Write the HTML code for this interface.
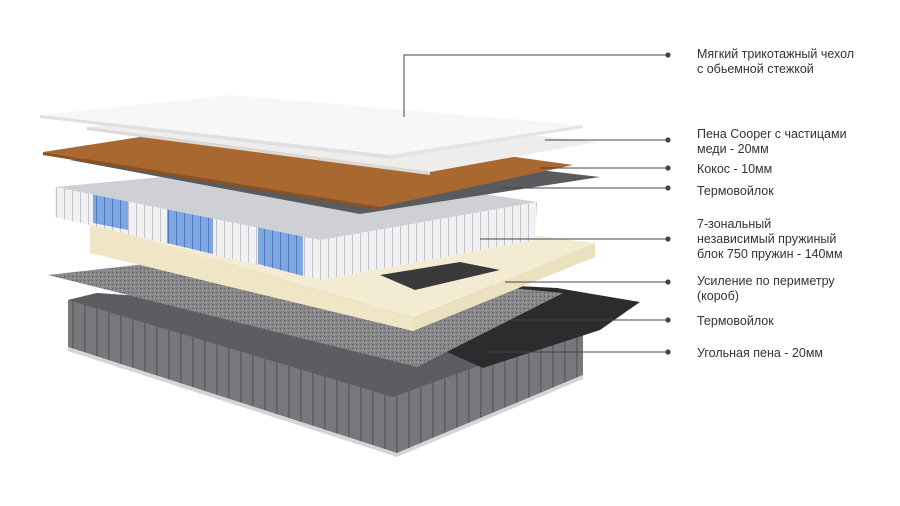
<!DOCTYPE html>
<html><head><meta charset="utf-8"><style>
html,body{margin:0;padding:0;background:#fff;}
svg{display:block}
text{font-family:"Liberation Sans",sans-serif;font-size:12.5px;fill:#333;}
</style></head><body>
<svg width="900" height="506" viewBox="0 0 900 506">
<defs>
<pattern id="rib" width="12" height="10" patternUnits="userSpaceOnUse"><rect width="12" height="10" fill="#77787c"/><rect width="1.5" height="10" fill="#5d5e62"/></pattern>
<pattern id="spr" width="8" height="10" patternUnits="userSpaceOnUse"><rect width="8" height="10" fill="#f1f1f3"/><rect width="1" height="10" fill="#c4c4ca"/></pattern>
<pattern id="sprb" width="8" height="10" patternUnits="userSpaceOnUse"><rect width="8" height="10" fill="#7ea6e0"/><rect width="1" height="10" fill="#4f7cc0"/></pattern>
<pattern id="felt" width="4" height="4" patternUnits="userSpaceOnUse"><rect width="4" height="4" fill="#868689"/><rect width="1" height="1" fill="#5c5c5f"/><rect x="2" y="2" width="1" height="1" fill="#b0b0b2"/></pattern>
</defs>
<!-- base -->
<polygon points="68,300 97,293 583,328 583,375 397,453 68,347" fill="url(#rib)"/>
<polygon points="97,293 583,328 393,397 68,300" fill="#5c5d61"/>
<polygon points="68,347 397,453 583,375 583,379 397,457 68,351" fill="#d4d5d8"/>
<!-- black charcoal -->
<polygon points="300,275 557,288 640,302 600,330 483,368 420,340" fill="#2c2c2e"/>
<!-- lower felt -->
<polygon points="48,275 200,258 563,293 417,367" fill="url(#felt)"/>
<!-- box cream -->
<polygon points="90,223 280,205 595,243 413,318" fill="#f4ecd2"/>
<polygon points="90,223 413,318 413,331 90,253" fill="#f0e6c6"/>
<polygon points="413,318 595,243 595,257 413,331" fill="#ebe1c0"/>
<polygon points="380,275 460,262 500,270 415,290" fill="#3a3a3c"/>
<!-- springs -->
<polygon points="55,187 320,240 320,280 55,217" fill="url(#spr)"/>
<polygon points="93,194 128,201 128,230 93,223" fill="url(#sprb)"/>
<polygon points="167,209 213,218 213,254 167,243" fill="url(#sprb)"/>
<polygon points="258,227 303,236 303,276 258,264" fill="url(#sprb)"/>
<polygon points="320,240 537,202 535,240 320,280" fill="url(#spr)"/>
<polygon points="55,187 290,165 537,202 320,240" fill="#cfd0d6"/>
<!-- top felt -->
<polygon points="70,160 280,140 600,177 360,214" fill="#5a5b5e"/>
<!-- coconut -->
<polygon points="43,152 250,120 573,165 380,207" fill="#a8682f"/>
<polygon points="43,152 380,207 380,210 43,155" fill="#8a5222"/>
<!-- copper foam -->
<polygon points="87,127 260,108 597,142 430,172" fill="#eeedec"/>
<polygon points="87,127 430,172 430,175 87,130" fill="#dcdad6"/>
<!-- top cover -->
<polygon points="40,115 230,95 583,125 390,155" fill="#f7f7f8"/>
<polygon points="40,115 390,155 390,159 40,118" fill="#e0e0e2"/>
<polygon points="390,155 583,125 583,128 390,159" fill="#e4e4e6"/>
<!-- lines -->
<g stroke="#444" stroke-width="1" fill="none">
<polyline points="404,117 404,55 668,55"/>
<line x1="545" y1="140" x2="668" y2="140"/>
<line x1="540" y1="168" x2="668" y2="168"/>
<line x1="500" y1="188" x2="668" y2="188"/>
<line x1="480" y1="239" x2="668" y2="239"/>
<line x1="505" y1="282" x2="668" y2="282"/>
<line x1="510" y1="320" x2="668" y2="320"/>
<line x1="490" y1="352" x2="668" y2="352"/>
</g>
<g fill="#444">
<circle cx="668" cy="55" r="2.6"/><circle cx="668" cy="140" r="2.6"/><circle cx="668" cy="168" r="2.6"/><circle cx="668" cy="188" r="2.6"/><circle cx="668" cy="239" r="2.6"/><circle cx="668" cy="282" r="2.6"/><circle cx="668" cy="320" r="2.6"/><circle cx="668" cy="352" r="2.6"/>
</g>
<text x="697" y="58">Мягкий трикотажный чехол</text>
<text x="697" y="73">с обьемной стежкой</text>
<text x="697" y="138">Пена Cooper с частицами</text>
<text x="697" y="153">меди - 20мм</text>
<text x="697" y="173">Кокос - 10мм</text>
<text x="697" y="195">Термовойлок</text>
<text x="697" y="228">7-зональный</text>
<text x="697" y="243">независимый пружиный</text>
<text x="697" y="258">блок 750 пружин - 140мм</text>
<text x="697" y="285">Усиление по периметру</text>
<text x="697" y="300">(короб)</text>
<text x="697" y="325">Термовойлок</text>
<text x="697" y="357">Угольная пена - 20мм</text>
</svg>
</body></html>
